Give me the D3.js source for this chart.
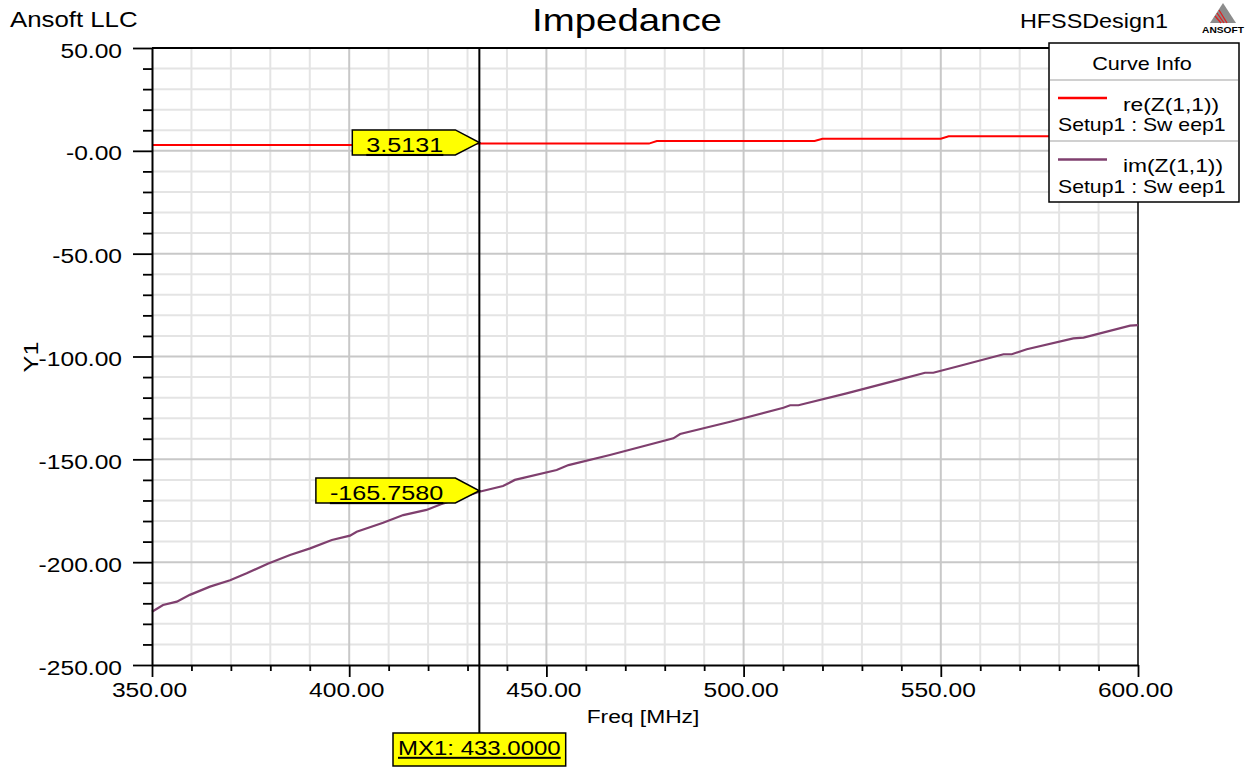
<!DOCTYPE html>
<html>
<head>
<meta charset="utf-8">
<script src="https://cdn.jsdelivr.net/npm/d3@7"></script>
<style>
  body { margin: 0; background: #fff; }
  svg { display: block; }
  text { font-family: "Liberation Sans", Arial, sans-serif; fill: #000; }
</style>
</head>
<body>
<svg id="chart" width="1255" height="768"></svg>
<script>
// ---- data ----
const freqTicks = [350, 400, 450, 500, 550, 600];
const freqTickLabels = ["350.00", "400.00", "450.00", "500.00", "550.00", "600.00"];
const yTicks = [50, 0, -50, -100, -150, -200, -250];
const yTickLabels = ["50.00", "-0.00", "-50.00", "-100.00", "-150.00", "-200.00", "-250.00"];

// re(Z(1,1)) in ohms vs frequency in MHz
const reFreq   = [350, 415, 417, 476, 478, 518, 520, 550, 552, 598.5, 600];
const reValues = [2.8, 2.8, 3.5131, 3.5131, 4.75, 4.75, 5.9, 5.9, 7.05, 7.05, 7.7];

// im(Z(1,1)) in ohms vs frequency in MHz
const imFreq = [350, 352.8, 356.3, 359.6, 364.7, 369.8, 374.0, 379.5, 385.0, 390.1,
                395.6, 400.2, 401.9, 408.6, 413.7, 419.6, 423.9, 433.0, 439.0, 442.0,
                452.6, 455.6, 466.1, 482.2, 483.9, 496.6, 510.1, 511.8, 513.9, 526.1,
                539.7, 546.0, 548.1, 554.9, 565.9, 568.0, 571.8, 583.6, 586.2, 598.0, 600];
const imValues = [-224.1, -220.8, -219.2, -215.9, -211.9, -208.8, -205.4, -200.6, -196.5, -193.3,
                  -189.2, -187.1, -185.2, -180.8, -177.1, -174.6, -171.4, -165.758, -163.0, -160.0,
                  -155.2, -152.8, -147.9, -139.8, -137.7, -131.7, -124.9, -123.7, -123.7, -117.9,
                  -111.1, -107.9, -107.9, -104.5, -98.9, -98.9, -96.5, -91.2, -90.8, -85.0, -84.7];

const markerName = "MX1";
const markerFreq = 433.0;
const markerValues = [3.5131, -165.7580];
const markerTexts = ["3.5131", "-165.7580"];

const seriesNames = ["re(Z(1,1))", "im(Z(1,1))"];
const seriesSetup = ["Setup1 : Sw eep1", "Setup1 : Sw eep1"];
const seriesColors = ["#ff0000", "#7f3f6e"];

// ---- layout ----
const SX = 1.2; // horizontal glyph stretch used by all labels
const svg = d3.select("#chart");
const x = d3.scaleLinear().domain([350, 600]).range([152, 1138]);
const y = d3.scaleLinear().domain([-250, 50]).range([665, 48]);

function label(g, str, px, py, size, anchor, sx) {
  return g.append("text")
    .attr("transform", `translate(${px},${py}) scale(${sx || SX},1)`)
    .attr("font-size", size)
    .attr("text-anchor", anchor || "start")
    .text(str);
}

// ---- grid ----
const grid = svg.append("g");
const minorX = d3.range(360, 600, 10).filter(d => d % 50 !== 0);
const majorX = d3.range(400, 600, 50);
const minorY = d3.range(-240, 50, 10).filter(d => d % 50 !== 0);
const majorY = d3.range(-200, 50, 50);

grid.selectAll(".gxm").data(minorX).join("line")
  .attr("x1", d => x(d)).attr("x2", d => x(d)).attr("y1", y(50)).attr("y2", y(-250))
  .attr("stroke", "#e4e4e4").attr("stroke-width", 2);
grid.selectAll(".gym").data(minorY).join("line")
  .attr("y1", d => y(d)).attr("y2", d => y(d)).attr("x1", x(350)).attr("x2", x(600))
  .attr("stroke", "#e4e4e4").attr("stroke-width", 2);
grid.selectAll(".gxM").data(majorX).join("line")
  .attr("x1", d => x(d)).attr("x2", d => x(d)).attr("y1", y(50)).attr("y2", y(-250))
  .attr("stroke", "#c8c8c8").attr("stroke-width", 2);
grid.selectAll(".gyM").data(majorY).join("line")
  .attr("y1", d => y(d)).attr("y2", d => y(d)).attr("x1", x(350)).attr("x2", x(600))
  .attr("stroke", "#c8c8c8").attr("stroke-width", 2);

// plot frame (top and right)
svg.append("line").attr("x1", x(350)).attr("x2", x(600)).attr("y1", y(50)).attr("y2", y(50))
  .attr("stroke", "#000").attr("stroke-width", 2);
svg.append("line").attr("x1", x(600)).attr("x2", x(600)).attr("y1", y(50)).attr("y2", y(-250))
  .attr("stroke", "#000").attr("stroke-width", 1.5);

// ---- curves ----
const line = d3.line().x(d => x(d[0])).y(d => y(d[1]));
const reData = reFreq.map((f, i) => [f, reValues[i]]);
const imData = imFreq.map((f, i) => [f, imValues[i]]);
svg.append("path").datum(reData).attr("d", line)
  .attr("fill", "none").attr("stroke", seriesColors[0]).attr("stroke-width", 2);
svg.append("path").datum(imData).attr("d", line)
  .attr("fill", "none").attr("stroke", seriesColors[1]).attr("stroke-width", 2.2);

// ---- axes ----
function styleAxis(g) {
  g.attr("font-size", null).attr("font-family", null);
  g.select(".domain").attr("stroke", "#000").attr("stroke-width", 2);
  g.selectAll(".tick line").attr("stroke", "#000").attr("stroke-width", 1.8);
}

const yMinor = svg.append("g").attr("transform", `translate(${x(350)},0)`)
  .call(d3.axisLeft(y).tickValues(minorY).tickSize(9).tickFormat("").tickSizeOuter(0));
styleAxis(yMinor);
yMinor.select(".domain").remove();

const yAxis = svg.append("g").attr("transform", `translate(${x(350)},0)`)
  .call(d3.axisLeft(y).tickValues(yTicks).tickSize(19)
        .tickFormat((d, i) => yTickLabels[i]).tickSizeOuter(0));
styleAxis(yAxis);
yAxis.selectAll(".tick text")
  .attr("x", null).attr("dy", null)
  .attr("font-size", 20.5)
  .attr("transform", `translate(-30,9) scale(${SX},1)`);

const xMinor = svg.append("g").attr("transform", `translate(0,${y(-250)})`)
  .call(d3.axisBottom(x).tickValues(d3.range(350, 601, 10).filter(d => d % 50 !== 0))
        .tickSize(6).tickFormat("").tickSizeOuter(0));
styleAxis(xMinor);
xMinor.select(".domain").remove();

const xAxis = svg.append("g").attr("transform", `translate(0,${y(-250)})`)
  .call(d3.axisBottom(x).tickValues(freqTicks).tickSize(12)
        .tickFormat((d, i) => freqTickLabels[i]).tickSizeOuter(0));
styleAxis(xAxis);
xAxis.selectAll(".tick text")
  .attr("y", null).attr("dy", null)
  .attr("font-size", 20.5)
  .attr("transform", `translate(-3,32) scale(${SX},1)`);

// axis titles
label(svg, "Freq [MHz]", 643, 723, 19, "middle");
svg.append("text")
  .attr("transform", `translate(38,357) rotate(-90) scale(${SX},1)`)
  .attr("font-size", 21).attr("text-anchor", "middle").text("Y1");

// ---- marker ----
const mx = x(markerFreq);
svg.append("line").attr("x1", mx).attr("x2", mx).attr("y1", y(50)).attr("y2", 733)
  .attr("stroke", "#000").attr("stroke-width", 2);

markerValues.forEach((v, i) => {
  const yv = y(v);
  const g = svg.append("g");
  const t = label(g, markerTexts[i], 0, 0, 21, "start")
    .attr("text-decoration", "underline");
  const w = t.node().getComputedTextLength() * SX;
  const shoulder = mx - 24;
  const textStart = shoulder - 12 - w;
  const left = textStart - 14;
  const top = yv - 13.7, bottom = yv + 11.3;
  g.insert("path", "text")
    .attr("d", `M${left},${top}L${shoulder},${top}L${mx},${yv - 1}L${shoulder},${bottom}L${left},${bottom}Z`)
    .attr("fill", "#ffff00").attr("stroke", "#000").attr("stroke-width", 1.5);
  t.attr("transform", `translate(${textStart},${yv + 8.5}) scale(${SX},1)`);
});

{
  const g = svg.append("g");
  const str = `${markerName}: ${markerFreq.toFixed(4)}`;
  const t = label(g, str, mx, 755, 20, "middle").attr("text-decoration", "underline");
  const w = t.node().getComputedTextLength() * SX;
  g.insert("rect", "text")
    .attr("x", mx - w / 2 - 5).attr("y", 733).attr("width", w + 10).attr("height", 33)
    .attr("fill", "#ffff00").attr("stroke", "#000").attr("stroke-width", 1.5);
}

// ---- header ----
label(svg, "Ansoft LLC", 10, 27, 21.5, "start");
label(svg, "Impedance", 627, 31, 32, "middle");
label(svg, "HFSSDesign1", 1168, 28, 19.5, "end");

// logo
const logo = svg.append("g");
logo.append("path").attr("d", "M1223,3L1236,23L1210,23Z").attr("fill", "#8c8c8c");
[[1219, 10, 1227, 23], [1217, 13, 1224, 23], [1215, 16, 1221, 23]].forEach(s => {
  logo.append("line").attr("x1", s[0]).attr("y1", s[1]).attr("x2", s[2]).attr("y2", s[3])
    .attr("stroke", "#e02020").attr("stroke-width", 1.3);
});
label(logo, "ANSOFT", 1223, 33, 8.5, "middle").attr("font-weight", "bold").attr("fill", "#333");

// ---- legend ----
const lg = svg.append("g");
lg.append("rect").attr("x", 1049).attr("y", 43).attr("width", 190).attr("height", 159)
  .attr("fill", "#fff").attr("stroke", "#000").attr("stroke-width", 1.5);
label(lg, "Curve Info", 1142, 70, 18, "middle");
[80, 141].forEach(yy => {
  lg.append("line").attr("x1", 1050).attr("x2", 1238).attr("y1", yy).attr("y2", yy)
    .attr("stroke", "#c0c0c0").attr("stroke-width", 1.5);
});
seriesNames.forEach((name, i) => {
  const base = 98 + i * 61.5;
  lg.append("line").attr("x1", 1058).attr("x2", 1107).attr("y1", base).attr("y2", base)
    .attr("stroke", seriesColors[i]).attr("stroke-width", 2.5);
  label(lg, name, 1123, base + 12.5, 19, "start");
  label(lg, seriesSetup[i], 1058, base + 33, 18, "start", 1.18);
});
</script>
</body>
</html>
